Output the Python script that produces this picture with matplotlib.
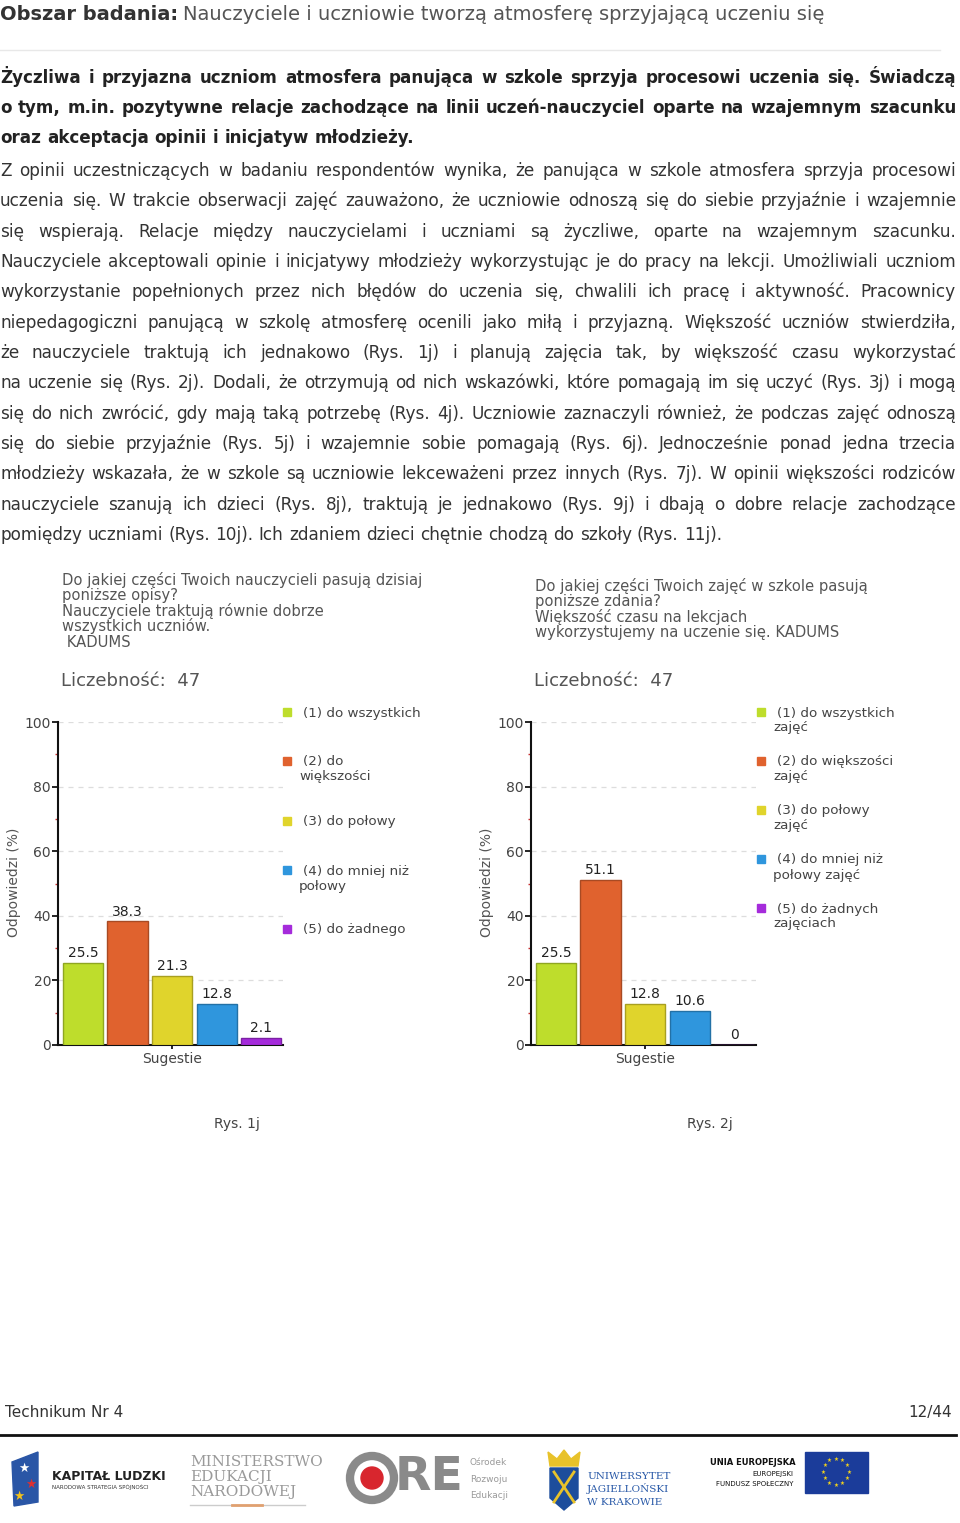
import numpy as np
import matplotlib.pyplot as plt
import matplotlib.colors as mcolors
from matplotlib.patches import Rectangle, Ellipse, Polygon
from matplotlib.lines import Line2D

W, H = 960, 1523

# chart data
categories = ['(1)', '(2)', '(3)', '(4)', '(5)']
values_1j = [25.5, 38.3, 21.3, 12.8, 2.1]
values_2j = [25.5, 51.1, 12.8, 10.6, 0]
count_1j = 47
count_2j = 47
yticks = [0, 20, 40, 60, 80, 100]
bar_colors = ['#BEDD2C', '#E0622E', '#E0D42C', '#2F96DD', '#A52BDB']

legend_1j = ['(1) do wszystkich', '(2) do\nwiększości', '(3) do połowy',
             '(4) do mniej niż\npołowy', '(5) do żadnego']
legend_2j = ['(1) do wszystkich\nzajęć', '(2) do większości\nzajęć', '(3) do połowy\nzajęć',
             '(4) do mniej niż\npołowy zajęć', '(5) do żadnych\nzajęciach']
title_1j = ['Do jakiej części Twoich nauczycieli pasują dzisiaj', 'poniższe opisy?',
            'Nauczyciele traktują równie dobrze', 'wszystkich uczniów.', ' KADUMS']
title_2j = ['Do jakiej części Twoich zajęć w szkole pasują', 'poniższe zdania?',
            'Większość czasu na lekcjach', 'wykorzystujemy na uczenie się. KADUMS']

# page text
header_bold = 'Obszar badania:'
header_rest = 'Nauczyciele i uczniowie tworzą atmosferę sprzyjającą uczeniu się'
lead_lines = [
    'Życzliwa i przyjazna uczniom atmosfera panująca w szkole sprzyja procesowi uczenia się. Świadczą',
    'o tym, m.in. pozytywne relacje zachodzące na linii uczeń-nauczyciel oparte na wzajemnym szacunku',
    'oraz akceptacja opinii i inicjatyw młodzieży.',
]
body_lines = [
    'Z opinii uczestniczących w badaniu respondentów wynika, że panująca w szkole atmosfera sprzyja procesowi',
    'uczenia się. W trakcie obserwacji zajęć zauważono, że uczniowie odnoszą się do siebie przyjaźnie i wzajemnie',
    'się wspierają. Relacje między nauczycielami i uczniami są życzliwe, oparte na wzajemnym szacunku.',
    'Nauczyciele akceptowali opinie i inicjatywy młodzieży wykorzystując je do pracy na lekcji. Umożliwiali uczniom',
    'wykorzystanie popełnionych przez nich błędów do uczenia się, chwalili ich pracę i aktywność. Pracownicy',
    'niepedagogiczni panującą w szkolę atmosferę ocenili jako miłą i przyjazną. Większość uczniów stwierdziła,',
    'że nauczyciele traktują ich jednakowo (Rys. 1j) i planują zajęcia tak, by większość czasu wykorzystać',
    'na uczenie się (Rys. 2j). Dodali, że otrzymują od nich wskazówki, które pomagają im się uczyć (Rys. 3j) i mogą',
    'się do nich zwrócić, gdy mają taką potrzebę (Rys. 4j). Uczniowie zaznaczyli również, że podczas zajęć odnoszą',
    'się do siebie przyjaźnie (Rys. 5j) i wzajemnie sobie pomagają (Rys. 6j). Jednocześnie ponad jedna trzecia',
    'młodzieży wskazała, że w szkole są uczniowie lekceważeni przez innych (Rys. 7j). W opinii większości rodziców',
    'nauczyciele szanują ich dzieci (Rys. 8j), traktują je jednakowo (Rys. 9j) i dbają o dobre relacje zachodzące',
    'pomiędzy uczniami (Rys. 10j). Ich zdaniem dzieci chętnie chodzą do szkoły (Rys. 11j).',
]

fig = plt.figure(figsize=(9.6, 15.23), dpi=100)
renderer = fig.canvas.get_renderer()


def fx(x):
    return x / W


def fy(y):
    return 1 - y / H


def put(x, y, s, **kw):
    kw.setdefault('va', 'baseline')
    return fig.text(fx(x), fy(y), s, **kw)


def width_of(t):
    return t.get_window_extent(renderer).width


def justified(y, line, last=False, width=956, **kw):
    words = line.split(' ')
    ts = [put(0, y, w, **kw) for w in words]
    ws = [width_of(t) for t in ts]
    probe = put(0, y, 'a a', **kw)
    probe2 = put(0, y, 'aa', **kw)
    space = width_of(probe) - width_of(probe2)
    probe.remove()
    probe2.remove()
    gap = space if last else max((width - sum(ws)) / (len(words) - 1), 2)
    x = 0
    for t, w in zip(ts, ws):
        t.set_x(fx(x))
        x += w + gap


# header
hb = put(0, 20, header_bold, fontsize=14, fontweight='bold', color='#333333')
put(width_of(hb) + 5, 20, header_rest, fontsize=14, color='#555555')
fig.add_artist(Line2D([0, fx(940)], [fy(50), fy(50)], color='#e8e8e8', lw=1))

for i, line in enumerate(lead_lines):
    justified(83 + 30.2 * i, line, last=(i == len(lead_lines) - 1),
              fontsize=12.1, fontweight='bold', color='#222222')

for i, line in enumerate(body_lines):
    justified(176 + 30.33 * i, line, last=(i == len(body_lines) - 1),
              fontsize=12.2, color='#333333')


def darker(c, f=0.75):
    r, g, b = mcolors.to_rgb(c)
    return (r * f, g * f, b * f)


def draw_chart(left, values, count, title, title_x, title_y, legend, legend_ys,
               sq_x, caption, caption_x):
    ax = fig.add_axes([fx(left), fy(1045), 225 / W, 323 / H])
    x = np.arange(len(categories))
    ax.bar(x, values, width=0.9, color=bar_colors,
           edgecolor=[darker(c) for c in bar_colors], linewidth=1, zorder=3)
    for xi, v in zip(x, values):
        ax.annotate(f'{v:g}', (xi, v), xytext=(0, 2), textcoords='offset points',
                    ha='center', va='bottom', fontsize=10, color='#222222', zorder=4)
    ax.set_xlim(-0.56, 4.49)
    ax.set_ylim(0, 100)
    ax.set_yticks(yticks)
    ax.set_yticks([10, 30, 50, 70, 90], minor=True)
    ax.set_xticks([2])
    ax.set_xticklabels(['Sugestie'])
    ax.tick_params(axis='y', which='major', length=4, width=1.2, pad=1,
                   labelsize=10, labelcolor='#444444')
    ax.tick_params(axis='y', which='minor', length=2.5, width=1, color='#cc3333')
    ax.tick_params(axis='x', length=3, width=1.2, pad=2, labelsize=10, labelcolor='#444444')
    ax.yaxis.grid(True, linestyle=(0, (4, 4)), color='#dddddd', lw=0.9)
    ax.set_axisbelow(True)
    for s in ['top', 'right']:
        ax.spines[s].set_visible(False)
    for s in ['left', 'bottom']:
        ax.spines[s].set_linewidth(1.5)
        ax.spines[s].set_color('#111111')
    ax.patch.set_alpha(0)

    for i, line in enumerate(title):
        put(title_x, title_y + 15.4 * i, line, fontsize=10.6, color='#555555')
    put(title_x - 1, 686, f'Liczebność:  {count}', fontsize=13, color='#555555')
    put(left - 44, 882, 'Odpowiedzi (%)', fontsize=10, color='#555555',
        rotation=90, ha='center', va='center')

    for lab, ly, c in zip(legend, legend_ys, bar_colors):
        fig.add_artist(Rectangle((fx(sq_x - 4), fy(ly + 4)), 8 / W, 8 / H,
                                 transform=fig.transFigure, color=c))
        for j, part in enumerate(lab.split('\n')):
            put(sq_x + 16 - (4 if j else 0), ly + 4.5 + 15 * j, part,
                fontsize=9.7, color='#444444')

    put(caption_x, 1128, caption, fontsize=10, color='#444444', ha='center')


draw_chart(58, values_1j, count_1j, title_1j, 62, 585, legend_1j,
           [712, 761, 821, 870, 929], 287, 'Rys. 1j', 237)
draw_chart(531, values_2j, count_2j, title_2j, 535, 591, legend_2j,
           [712, 761, 810, 859, 908], 761, 'Rys. 2j', 710)

# footer
put(5, 1417, 'Technikum Nr 4', fontsize=11, color='#333333')
put(952, 1417, '12/44', fontsize=11, color='#333333', ha='right')
fig.add_artist(Line2D([0, fx(956)], [fy(1435), fy(1435)], color='#111111', lw=2))

# logos (rough)
fig.add_artist(Polygon([(fx(12), fy(1462)), (fx(38), fy(1452)), (fx(38), fy(1502)), (fx(14), fy(1506))],
                       closed=True, transform=fig.transFigure, color='#2a56a6'))
put(24, 1468, '★', fontsize=9, color='white', ha='center', va='center')
put(31, 1484, '★', fontsize=9, color='#e03030', ha='center', va='center')
put(19, 1496, '★', fontsize=9, color='#f3c21b', ha='center', va='center')
put(52, 1480, 'KAPITAŁ LUDZKI', fontsize=9, fontweight='bold', color='#222222')
put(52, 1489, 'NARODOWA STRATEGIA SPÓJNOŚCI', fontsize=4, color='#333333')

for i, s in enumerate(['MINISTERSTWO', 'EDUKACJI', 'NARODOWEJ']):
    put(190, 1466 + 15 * i, s, fontsize=11, family='DejaVu Serif', color='#9a9a9a')
fig.add_artist(Line2D([fx(190), fx(305)], [fy(1505), fy(1505)], color='#cccccc', lw=1))
fig.add_artist(Line2D([fx(232), fx(262)], [fy(1505), fy(1505)], color='#e0a070', lw=2))

fig.add_artist(Ellipse((fx(372), fy(1478)), 44 / W, 44 / H, transform=fig.transFigure,
                       fill=False, ec='#8a8a8a', lw=6))
fig.add_artist(Ellipse((fx(372), fy(1478)), 22 / W, 22 / H, transform=fig.transFigure,
                       color='#d8262e'))
put(395, 1478, 'RE', fontsize=34, fontweight='bold', color='#8a8a8a', va='center')
for i, s in enumerate(['Ośrodek', 'Rozwoju', 'Edukacji']):
    put(470, 1465 + 16.5 * i, s, fontsize=6.5, color='#9a9a9a')

fig.add_artist(Polygon([(fx(550), fy(1466)), (fx(548), fy(1452)), (fx(557), fy(1459)), (fx(564), fy(1450)),
                        (fx(571), fy(1459)), (fx(580), fy(1452)), (fx(578), fy(1466))],
                       closed=True, transform=fig.transFigure, color='#e8c22a'))
fig.add_artist(Polygon([(fx(550), fy(1468)), (fx(578), fy(1468)), (fx(578), fy(1498)), (fx(564), fy(1510)),
                        (fx(550), fy(1498))], closed=True, transform=fig.transFigure, color='#1d4d9c'))
fig.add_artist(Line2D([fx(554), fx(574)], [fy(1472), fy(1502)], color='#e8c22a', lw=2))
fig.add_artist(Line2D([fx(574), fx(554)], [fy(1472), fy(1502)], color='#e8c22a', lw=2))
for i, s in enumerate(['UNIWERSYTET', 'JAGIELLOŃSKI', 'W KRAKOWIE']):
    put(587, 1479 + 13 * i, s, fontsize=7.5, family='DejaVu Serif', color='#2a5aa8')

put(710, 1465, 'UNIA EUROPEJSKA', fontsize=6, fontweight='bold', color='#111111')
put(793, 1476, 'EUROPEJSKI', fontsize=5, color='#111111', ha='right')
put(793, 1486, 'FUNDUSZ SPOŁECZNY', fontsize=5, color='#111111', ha='right')
fig.add_artist(Rectangle((fx(805), fy(1493)), 63 / W, 41 / H, transform=fig.transFigure,
                         color='#1b3c9a'))
for a in np.arange(12) * np.pi / 6:
    put(836 + 13 * np.cos(a), 1472 + 13 * np.sin(a), '★', fontsize=4, color='#f3d21b',
        ha='center', va='center')

fig.savefig('out.png', dpi=100)
